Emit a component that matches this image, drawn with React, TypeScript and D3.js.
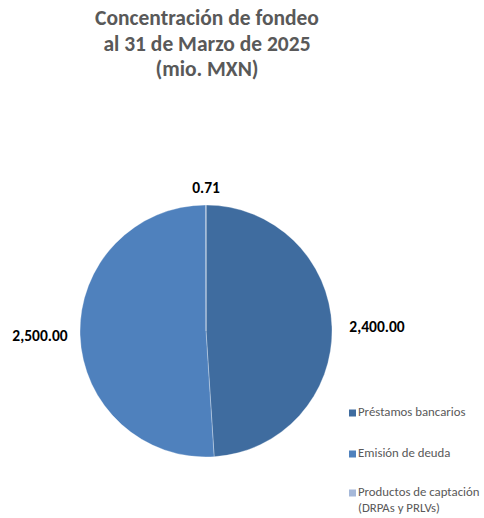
import React from "react";
import * as d3 from "d3";

const categories = ["Préstamos bancarios", "Emisión de deuda", "Productos de captación (DRPAs y PRLVs)"];
const values = [2400.0, 2500.0, 0.71];
const valueLabels = ["2,400.00", "2,500.00", "0.71"];
const colors = ["#3F6C9F", "#4F81BD", "#A5B8D9"];
const titleLines = ["Concentración de fondeo", "al 31 de Marzo de 2025", "(mio. MXN)"];
const legendLines = [["Préstamos bancarios"], ["Emisión de deuda"], ["Productos de captación", "(DRPAs y PRLVs)"]];

export default function App() {
  const W = 484, H = 518;
  const cx = 206, cy = 331, r = 126;
  const pie = d3.pie<number>().sort(null).value((d) => d);
  const arcs = pie(values);
  const arc = d3.arc<d3.PieArcDatum<number>>().innerRadius(0).outerRadius(r);
  const labelPos: [number, number][] = [
    [377, 328],
    [40, 337],
    [206, 189],
  ];
  const legendY = [413, 454, 493];
  const font = "Carlito, Calibri, 'Open Sans', 'Liberation Sans', sans-serif";
  return (
    <svg width={W} height={H} style={{ position: "absolute", left: 0, top: 0, fontFamily: font }}>
      <rect width={W} height={H} fill="#fff" />
      {titleLines.map((t, i) => (
        <text key={i} x={207} y={25 + i * 25.5} textAnchor="middle" fontSize={21.5} fontWeight="bold" fill="#595959">
          {t}
        </text>
      ))}
      <g transform={`translate(${cx},${cy})`}>
        {arcs.map((a, i) => (
          <path key={i} d={arc(a) || ""} fill={colors[i]} stroke="#fff" strokeWidth={0.3} />
        ))}
      </g>
      {valueLabels.map((l, i) => (
        <text key={i} x={labelPos[i][0]} y={labelPos[i][1]} textAnchor="middle" fontSize={15.5} fontWeight="bold" fill="#000" dominantBaseline="middle">
          {l}
        </text>
      ))}
      {categories.map((c, i) => (
        <g key={c}>
          <rect x={349} y={legendY[i] - 3.5} width={7} height={7} fill={colors[i]} />
          {legendLines[i].map((ln, j) => (
            <text key={j} x={358} y={legendY[i] + j * 16} fontSize={12.8} fill="#595959" dominantBaseline="middle">
              {ln}
            </text>
          ))}
        </g>
      ))}
    </svg>
  );
}
